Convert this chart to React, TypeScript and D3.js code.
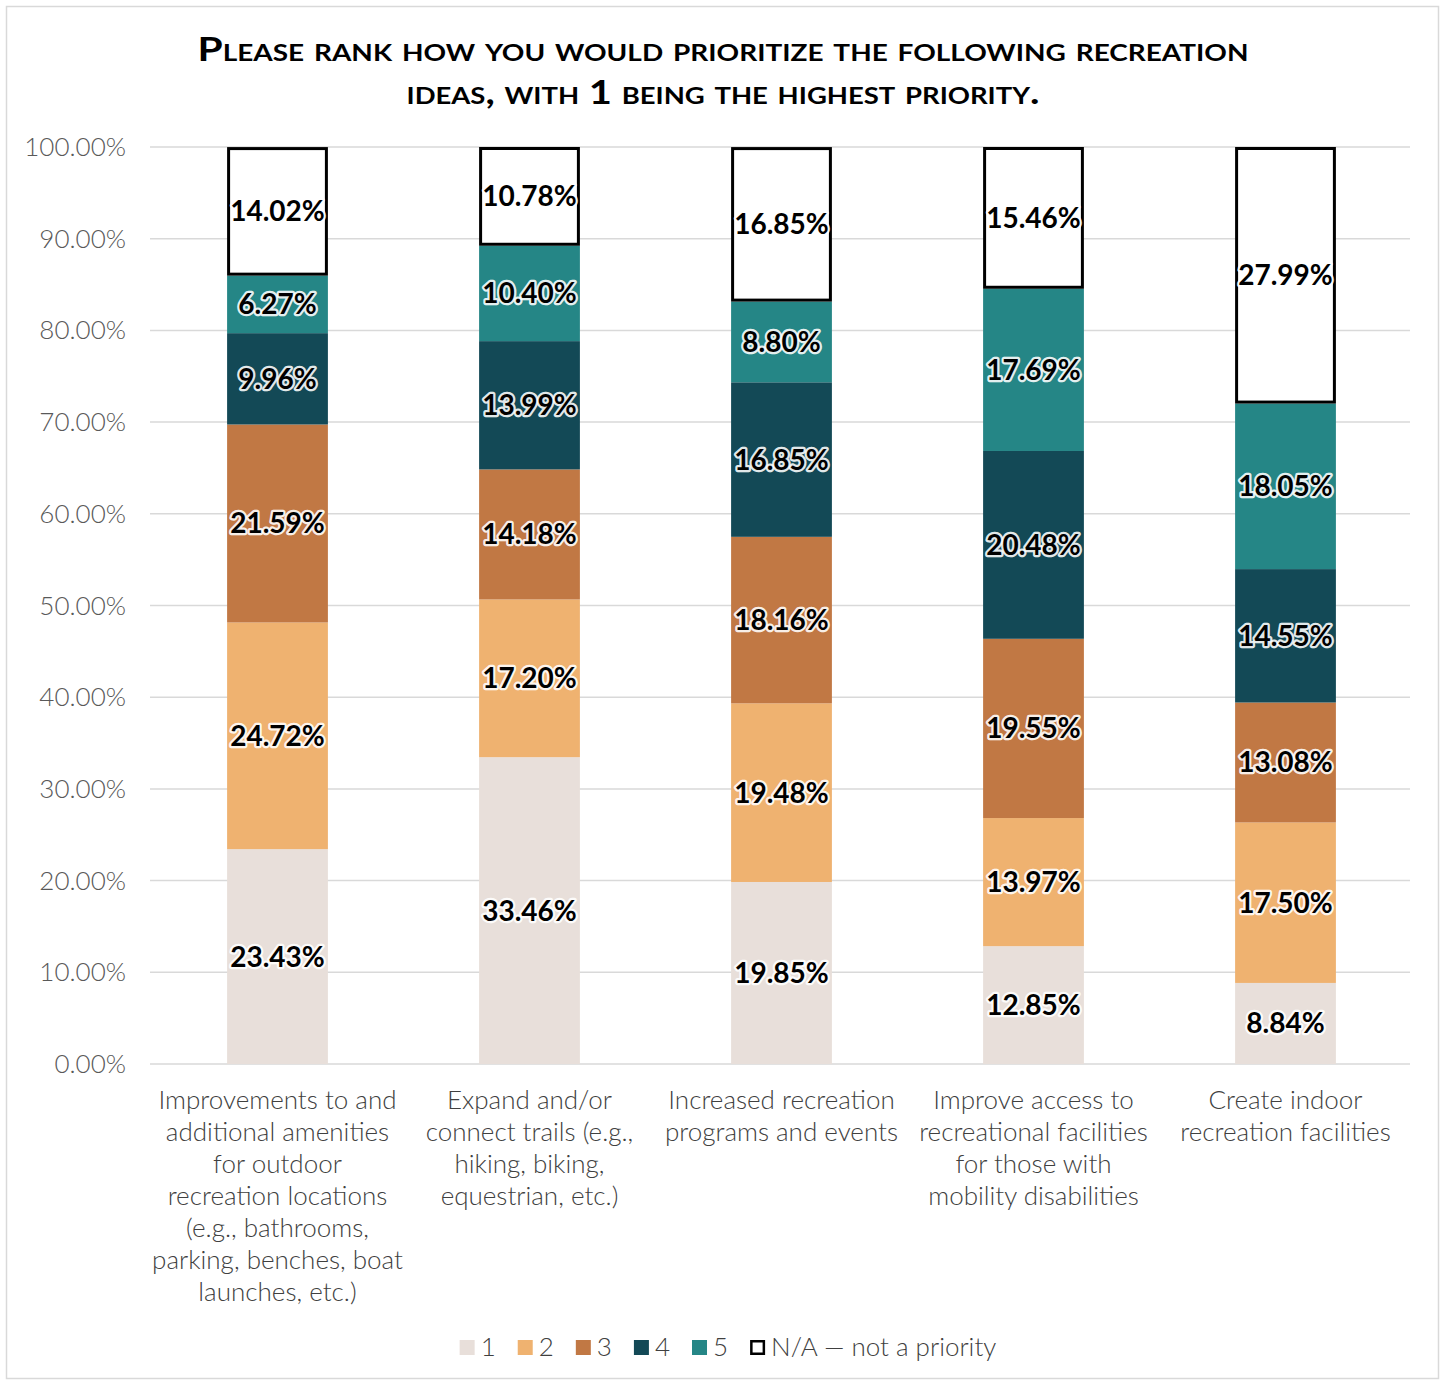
import React, { useEffect, useRef } from "react";
import * as d3 from "d3";

const categories: string[][] = [
  ["Improvements to and", "additional amenities", "for outdoor", "recreation locations", "(e.g., bathrooms,", "parking, benches, boat", "launches, etc.)"],
  ["Expand and/or", "connect trails (e.g.,", "hiking, biking,", "equestrian, etc.)"],
  ["Increased recreation", "programs and events"],
  ["Improve access to", "recreational facilities", "for those with", "mobility disabilities"],
  ["Create indoor", "recreation facilities"],
];
const seriesNames = ["1", "2", "3", "4", "5", "N/A — not a priority"];
const rank1 = [23.43, 33.46, 19.85, 12.85, 8.84];
const rank2 = [24.72, 17.2, 19.48, 13.97, 17.5];
const rank3 = [21.59, 14.18, 18.16, 19.55, 13.08];
const rank4 = [9.96, 13.99, 16.85, 20.48, 14.55];
const rank5 = [6.27, 10.4, 8.8, 17.69, 18.05];
const rankNA = [14.02, 10.78, 16.85, 15.46, 27.99];
const yTicks = [0, 10, 20, 30, 40, 50, 60, 70, 80, 90, 100];
const titleLines = ["Please rank how you would prioritize the following recreation", "ideas, with 1 being the highest priority."];

const colors = ["#e8dfda", "#efb270", "#c17844", "#134956", "#258686", "#ffffff"];

export default function App() {
  const ref = useRef<SVGSVGElement>(null);
  useEffect(() => {
    const svg = d3.select(ref.current);
    svg.selectAll("*").remove();
    const W = 1444, H = 1383;
    const font = "Lato, 'Open Sans', sans-serif";
    svg.append("rect").attr("x", 0).attr("y", 0).attr("width", W).attr("height", H).attr("fill", "#fff");
    svg.append("rect").attr("x", 6.5).attr("y", 6.5).attr("width", 1432).attr("height", 1372)
      .attr("fill", "none").attr("stroke", "#d9d9d9").attr("stroke-width", 1.5);

    const left = 151.5, right = 1411.5, top = 147, bottom = 1064;
    const x = d3.scaleBand<number>().domain(d3.range(categories.length)).range([left, right]).paddingInner(0.6).paddingOuter(0.3);
    const y = d3.scaleLinear().domain([0, 100]).range([bottom, top]);

    // title
    const tl = [1051, 633];
    titleLines.forEach((t, i) => {
      svg.append("text").attr("x", 723).attr("y", 61 + i * 43).attr("text-anchor", "middle")
        .attr("font-family", font).attr("font-weight", 700).attr("font-size", 32)
        .style("font-variant", "small-caps").attr("fill", "#000")
        .attr("textLength", tl[i]).attr("lengthAdjust", "spacingAndGlyphs").text(t);
    });

    // gridlines
    svg.append("g").selectAll("line").data(yTicks).join("line")
      .attr("x1", 150).attr("x2", 1410).attr("y1", (d) => y(d)).attr("y2", (d) => y(d))
      .attr("stroke", "#d9d9d9").attr("stroke-width", 1.5);
    svg.append("g").selectAll("text").data(yTicks).join("text")
      .attr("x", 126).attr("y", (d) => y(d) + 9).attr("text-anchor", "end")
      .attr("font-family", font).attr("font-weight", 300).attr("font-size", 26).attr("fill", "#595959")
      .text((d) => d.toFixed(2) + "%");

    const series = [rank1, rank2, rank3, rank4, rank5, rankNA];
    const table = categories.map((_, i) => {
      const o: any = { idx: i };
      series.forEach((s, k) => (o["s" + k] = s[i]));
      return o;
    });
    const stack = d3.stack<any>().keys(series.map((_, k) => "s" + k));
    const stacked = stack(table);

    const bw = x.bandwidth();
    stacked.forEach((layer, k) => {
      const g = svg.append("g");
      g.selectAll("rect").data(layer).join("rect")
        .attr("x", (d: any) => x(d.data.idx)! + (k === 5 ? 1.5 : 0))
        .attr("width", bw - (k === 5 ? 3 : 0))
        .attr("y", (d: any) => y(Math.min(d[1], 100)) + (k === 5 ? 1.5 : 0))
        .attr("height", (d: any) => y(d[0]) - y(Math.min(d[1], 100)) - (k === 5 ? 3 : 0))
        .attr("fill", colors[k])
        .attr("stroke", k === 5 ? "#000" : "none").attr("stroke-width", 3);
    });
    stacked.forEach((layer, k) => {
      const g = svg.append("g");
      g.selectAll("text").data(layer).join("text")
        .attr("x", (d: any) => x(d.data.idx)! + bw / 2)
        .attr("y", (d: any) => y((d[0] + Math.min(d[1], 100)) / 2) + 10)
        .attr("text-anchor", "middle").attr("font-family", font).attr("font-weight", 700)
        .attr("font-size", 28).attr("fill", "#000")
        .attr("stroke", "#fff").attr("stroke-width", 4.5).attr("stroke-linejoin", "round")
        .attr("stroke-opacity", 0.9)
        .style("paint-order", "stroke")
        .text((d: any) => (d[1] - d[0]).toFixed(2) + "%");
    });

    // x labels
    categories.forEach((lines, i) => {
      const t = svg.append("text").attr("text-anchor", "middle").attr("font-family", font)
        .attr("font-weight", 300).attr("font-size", 26).attr("fill", "#404040");
      lines.forEach((ln, j) => {
        t.append("tspan").attr("x", x(i)! + bw / 2).attr("y", 1109 + j * 32).text(ln);
      });
    });

    // legend
    const lg = svg.append("g");
    let cx = 0;
    seriesNames.forEach((n, k) => {
      const g = lg.append("g").attr("transform", `translate(${cx},0)`);
      g.append("rect").attr("x", k === 5 ? 1.25 : 0).attr("y", k === 5 ? -14.75 : -16)
        .attr("width", k === 5 ? 12.5 : 15).attr("height", k === 5 ? 12.5 : 15)
        .attr("fill", colors[k]).attr("stroke", k === 5 ? "#000" : "none").attr("stroke-width", 2.5);
      const t = g.append("text").attr("x", 21).attr("y", 0).attr("font-family", font)
        .attr("font-weight", 300).attr("font-size", 26).attr("fill", "#404040").text(n);
      const w = 21 + (t.node() as SVGTextElement).getComputedTextLength();
      cx += w + 22;
    });
    const total = cx - 22;
    lg.attr("transform", `translate(${728 - total / 2},1356)`);
  }, []);
  return (
    <svg ref={ref} width={1444} height={1383} style={{ position: "absolute", left: 0, top: 0, display: "block" }} />
  );
}
